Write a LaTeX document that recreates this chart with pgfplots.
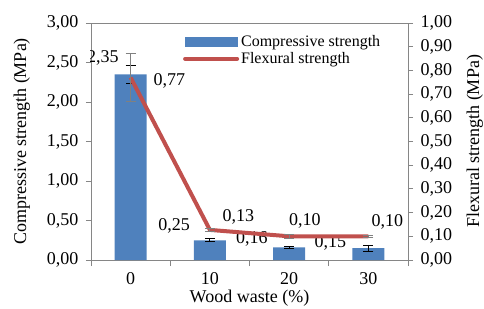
\documentclass[border=0pt]{standalone}
\usepackage{pgfplots}
\pgfplotsset{compat=1.18}
\usepackage{fontspec}
\setmainfont{Liberation Serif}
\definecolor{barblue}{HTML}{4F81BD}
\definecolor{linered}{HTML}{C0504D}
\definecolor{axgray}{HTML}{868686}
\begin{document}
\begin{tikzpicture}[font=\fontsize{18}{20}\selectfont]
\useasboundingbox (-91pt,-48pt) rectangle (393pt,260pt);
\pgfplotsset{
  common/.style={
    scale only axis, width=317pt, height=237pt,
    at={(0pt,0pt)}, anchor=south west,
    xmin=-0.5, xmax=3.5,
    tick align=outside,
    major tick length=5pt, minor tick length=6pt,
    axis line style={axgray, line width=0.9pt},
    every tick/.style={axgray, line width=0.9pt},
    /pgf/number format/.cd, fixed, fixed zerofill, precision=2, use comma, assume math mode=true,
  }
}
\begin{axis}[common,
  ymin=0, ymax=3, ytick={0,0.5,1,1.5,2,2.5,3},
  ytick pos=left,
  xtick={0,1,2,3}, xticklabels={0,10,20,30},
  xtick pos=bottom,
  major x tick style={draw=none},
  minor xtick={-0.5,0.5,1.5,2.5,3.5},
  yticklabel style={xshift=-4pt},
  xticklabel style={yshift=-4pt},
  ylabel={Compressive strength (MPa)},
  ylabel style={at={(axis description cs:-0.218,0.5)}, anchor=center},
  xlabel={Wood waste (\%)},
  xlabel style={at={(axis description cs:0.5,-0.16)}, anchor=center},
]
\addplot[ybar, bar width=32pt, fill=barblue, draw=none,
  error bars/.cd, y dir=both, y explicit,
  error bar style={black, line width=0.8pt},
  error mark options={rotate=90, mark size=5pt, black, line width=0.8pt}]
  coordinates {(0,2.35) +- (0,0.11) (1,0.25) +- (0,0.02) (2,0.16) +- (0,0.01) (3,0.15) +- (0,0.04)};
\node[inner sep=0pt] at (axis cs:-0.35,2.56) {2,35};
\node[inner sep=0pt] at (axis cs:0.55,0.43) {0,25};
\node[inner sep=0pt] at (axis cs:1.53,0.27) {0,16};
\node[inner sep=0pt] at (axis cs:2.52,0.22) {0,15};
\node[inner sep=0pt] at (axis cs:0.49,2.27) {0,77};
\node[inner sep=0pt] at (axis cs:1.36,0.54) {0,13};
\node[inner sep=0pt] at (axis cs:2.2,0.49) {0,10};
\node[inner sep=0pt] at (axis cs:3.24,0.48) {0,10};
\end{axis}
\begin{axis}[common,
  ymin=0, ymax=1, ytick={0,0.1,0.2,0.3,0.4,0.5,0.6,0.7,0.8,0.9,1},
  axis y line*=right, axis x line=none,
  yticklabel style={xshift=4pt},
  ylabel={Flexural strength (MPa)},
  ylabel style={at={(axis description cs:1.211,0.5)}, anchor=center},
  legend style={at={(axis description cs:0.29,0.955)}, anchor=north west,
    draw=none, fill=none, font=\fontsize{16}{17}\selectfont, row sep=0pt,
    inner sep=0pt,
    /tikz/every even column/.append style={column sep=2pt}},
  legend cell align=left,
]
\addlegendimage{legend image code/.code={\fill[barblue] (0pt,-4.5pt) rectangle (52pt,4.5pt);}}
\addlegendentry{Compressive strength}
\addplot[linered, line width=4pt, line join=round,
  legend image code/.code={\draw[linered, line width=4pt, line cap=round] (0pt,0pt) -- (52pt,0pt);},
  error bars/.cd, y dir=both, y explicit,
  error bar style={gray, line width=0.8pt},
  error mark options={rotate=90, mark size=5pt, gray, line width=0.8pt}]
  coordinates {(0,0.77) +- (0,0.10) (1,0.127) +- (0,0.005) (2,0.10) +- (0,0.01) (3,0.10) +- (0,0.005)};
\addlegendentry{Flexural strength}
\end{axis}
\end{tikzpicture}
\end{document}
